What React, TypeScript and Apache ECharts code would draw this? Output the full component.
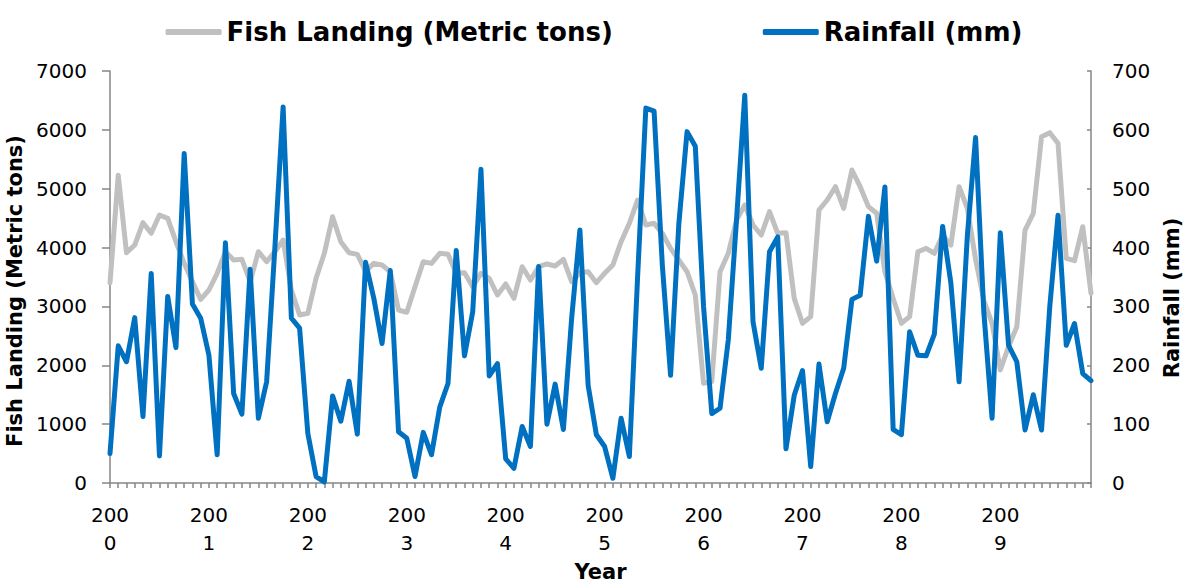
import React, { useEffect, useRef } from "react";
import * as echarts from "echarts";

const years = ["2000", "2001", "2002", "2003", "2004", "2005", "2006", "2007", "2008", "2009"];
const months = 12;

const fishLanding = [
  3400, 5230, 3913, 4043, 4423, 4242, 4553, 4496, 4100, 3732, 3420, 3120,
  3279, 3562, 3930, 3789, 3800, 3420, 3930, 3760, 3930, 4128, 3279, 2854,
  2883, 3478, 3902, 4525, 4100, 3913, 3885, 3600, 3732, 3704, 3590, 2939,
  2900, 3335, 3760, 3732, 3902, 3885, 3562, 3573, 3335, 3562, 3478, 3194,
  3381, 3137, 3675, 3449, 3675, 3721, 3687, 3800, 3420, 3573, 3590, 3403,
  3562, 3704, 4100, 4412, 4808, 4383, 4412, 4242, 3987, 3789, 3590, 3194,
  1694, 1722, 3590, 3902, 4468, 4723, 4383, 4213, 4610, 4242, 4253, 3137,
  2713, 2826, 4638, 4808, 5034, 4667, 5318, 5034, 4695, 4582, 3590, 3137,
  2713, 2826, 3930, 3987, 3902, 4213, 4043, 5034, 4667, 3800, 3100, 2713,
  1920, 2316, 2656, 4298, 4582, 5884, 5952, 5771, 3817, 3777, 4355, 3223,
];

const rainfall = [
  50, 233, 206, 281, 113, 356, 46, 317, 230, 560, 304, 280,
  217, 48, 408, 152, 117, 363, 110, 172, 400, 639, 280, 263,
  84, 11, 2, 148, 105, 173, 83, 375, 314, 237, 361, 87,
  76, 11, 86, 48, 129, 169, 395, 216, 291, 533, 182, 203,
  41, 25, 96, 62, 368, 100, 168, 91, 280, 430, 166, 82,
  62, 8, 110, 45, 350, 637, 632, 370, 183, 440, 597, 572,
  300, 118, 127, 243, 447, 659, 274, 195, 393, 418, 58, 149,
  191, 28, 202, 104, 152, 195, 312, 319, 453, 377, 503, 91,
  82, 257, 217, 216, 253, 436, 340, 172, 420, 587, 290, 110,
  425, 234, 206, 90, 150, 90, 300, 455, 234, 271, 186, 174,
];

const categories: string[] = [];
years.forEach((y) => {
  for (let m = 0; m < months; m++) categories.push(m === 0 ? y : y + "-" + (m + 1));
});

const FONT = "DejaVu Sans";
const AXIS_COLOR = "#868686";

export default function App() {
  const ref = useRef<HTMLDivElement>(null);
  useEffect(() => {
    if (!ref.current) return;
    const chart = echarts.init(ref.current, undefined, { renderer: "svg" });
    chart.setOption({
      animation: false,
      backgroundColor: "#ffffff",
      textStyle: { fontFamily: FONT },
      legend: {
        top: 14,
        left: "center",
        itemWidth: 56,
        itemHeight: 6,
        itemGap: 150,
        icon: "roundRect",
        textStyle: { fontFamily: FONT, fontSize: 26, fontWeight: "bold", color: "#000" },
        data: ["Fish Landing (Metric tons)", "Rainfall (mm)"],
      },
      grid: { left: 110, right: 97, top: 71, bottom: 102, containLabel: false, outerBoundsMode: "none" },
      xAxis: {
        type: "category",
        boundaryGap: false,
        data: categories,
        name: "Year",
        nameLocation: "middle",
        nameGap: 78,
        nameTextStyle: { fontFamily: FONT, fontSize: 21, fontWeight: "bold", color: "#000" },
        axisLine: { lineStyle: { color: AXIS_COLOR, width: 1.5 } },
        axisTick: { show: true, interval: 0, length: 5, lineStyle: { color: AXIS_COLOR, width: 1.5 } },
        axisLabel: {
          interval: (index: number) => index % months === 0,
          formatter: (v: string) => v.slice(0, 3) + "\n" + v.slice(3),
          fontFamily: FONT,
          fontSize: 20,
          lineHeight: 28,
          color: "#000",
          margin: 18,
        },
        splitLine: { show: false },
      },
      yAxis: [
        {
          type: "value",
          min: 0,
          max: 7000,
          interval: 1000,
          name: "Fish Landing (Metric tons)",
          nameLocation: "middle",
          nameRotate: 90,
          nameGap: 68,
          nameTextStyle: {
            fontFamily: FONT,
            fontSize: 21,
            fontWeight: "bold",
            color: "#000",
            padding: [0, 28, 0, 0],
          },
          axisLine: { show: true, lineStyle: { color: AXIS_COLOR, width: 1.5 } },
          axisTick: { show: true, length: 8, lineStyle: { color: AXIS_COLOR, width: 1.5 } },
          axisLabel: {
            fontFamily: FONT,
            fontSize: 20,
            color: "#000",
            margin: 23,
            formatter: (v: number) => String(v),
          },
          splitLine: { show: false },
        },
        {
          type: "value",
          min: 0,
          max: 700,
          interval: 100,
          position: "right",
          name: "Rainfall (mm)",
          nameLocation: "middle",
          nameRotate: 90,
          nameGap: 68,
          nameTextStyle: {
            fontFamily: FONT,
            fontSize: 21,
            fontWeight: "bold",
            color: "#000",
            padding: [0, 42, 0, 0],
          },
          axisLine: { show: true, lineStyle: { color: AXIS_COLOR, width: 1.5 } },
          axisTick: { show: true, inside: true, length: 4, lineStyle: { color: AXIS_COLOR, width: 1.5 } },
          axisLabel: {
            fontFamily: FONT,
            fontSize: 20,
            color: "#000",
            margin: 21,
            formatter: (v: number) => String(v),
          },
          splitLine: { show: false },
        },
      ],
      series: [
        {
          name: "Fish Landing (Metric tons)",
          type: "line",
          yAxisIndex: 0,
          data: fishLanding,
          showSymbol: false,
          symbol: "none",
          lineStyle: { color: "#C0C0C0", width: 5, join: "round", cap: "round" },
          itemStyle: { color: "#C0C0C0" },
          z: 2,
        },
        {
          name: "Rainfall (mm)",
          type: "line",
          yAxisIndex: 1,
          data: rainfall,
          showSymbol: false,
          symbol: "none",
          lineStyle: { color: "#0070C0", width: 5, join: "round", cap: "round" },
          itemStyle: { color: "#0070C0" },
          z: 3,
        },
      ],
    });
    return () => chart.dispose();
  }, []);
  return (
    <div
      ref={ref}
      style={{ position: "fixed", left: 0, top: 0, width: 1188, height: 585, background: "#fff" }}
    />
  );
}
